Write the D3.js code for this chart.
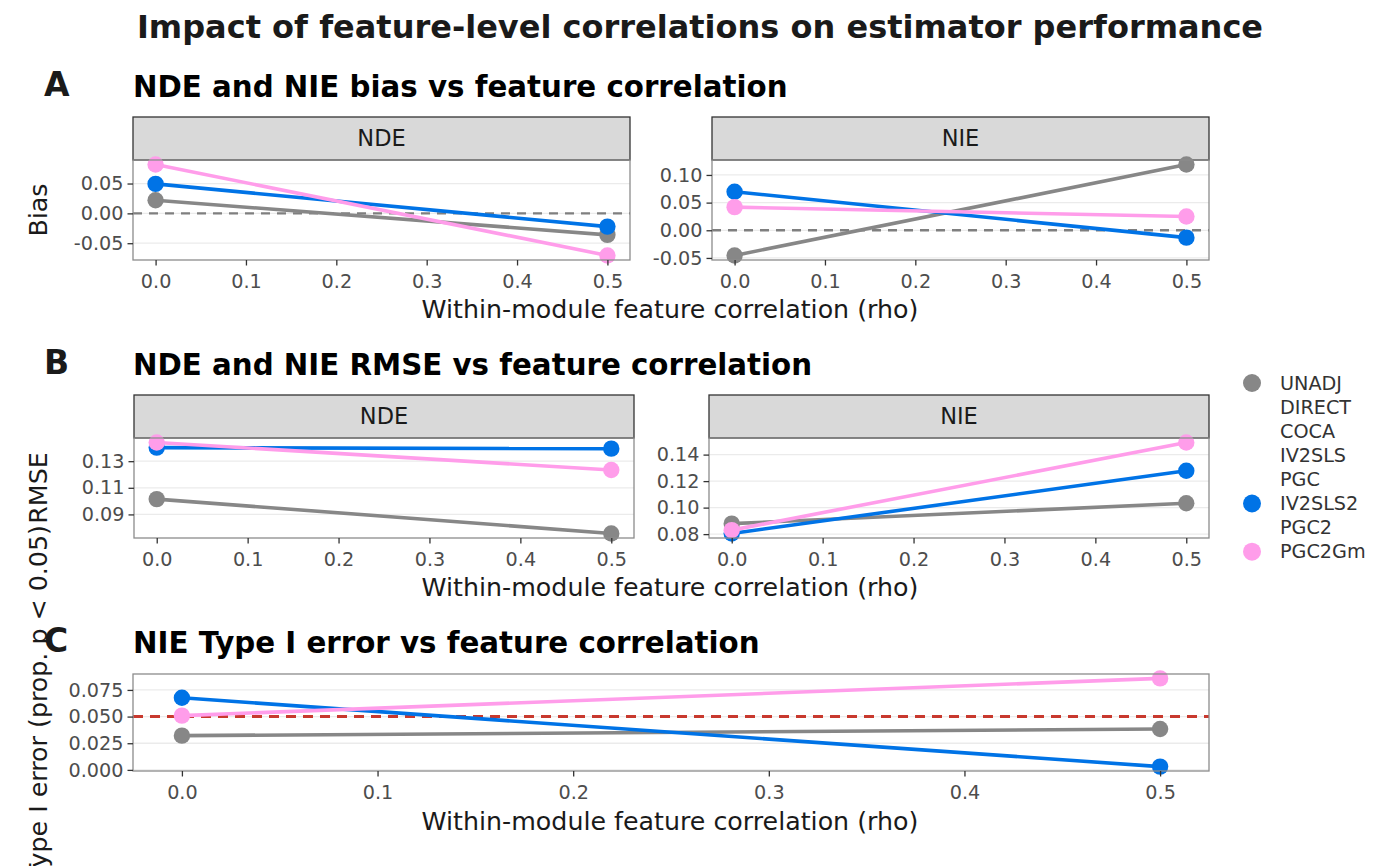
<!DOCTYPE html>
<html>
<head>
<meta charset="utf-8">
<script src="https://cdn.jsdelivr.net/npm/d3@7"></script>
<style>
  body { margin: 0; background: #fff; }
  svg { font-family: "DejaVu Sans", sans-serif; display: block; }
</style>
</head>
<body>
<svg id="chart"></svg>
<script>
// x values (within-module feature correlation)
const rho = [0, 0.5];
const xTicks = [0, 0.1, 0.2, 0.3, 0.4, 0.5];

// legend entries, only three of them have a visible colour
const methods = ["UNADJ", "DIRECT", "COCA", "IV2SLS", "PGC", "IV2SLS2", "PGC2", "PGC2Gm"];
const shownMethods = ["UNADJ", "IV2SLS2", "PGC2Gm"];

// A: bias
const biasNdeUnadj = [0.022, -0.036];
const biasNdeIv2sls2 = [0.0494, -0.0222];
const biasNdePgc2gm = [0.0818, -0.0705];
const biasNieUnadj = [-0.0455, 0.1188];
const biasNieIv2sls2 = [0.0697, -0.0133];
const biasNiePgc2gm = [0.0418, 0.0248];
const biasNdeTicks = [-0.05, 0, 0.05];
const biasNieTicks = [-0.05, 0, 0.05, 0.10];

// B: RMSE
const rmseNdeUnadj = [0.1015, 0.0757];
const rmseNdeIv2sls2 = [0.1402, 0.1394];
const rmseNdePgc2gm = [0.1440, 0.1234];
const rmseNieUnadj = [0.0879, 0.1033];
const rmseNieIv2sls2 = [0.0805, 0.1278];
const rmseNiePgc2gm = [0.0830, 0.1491];
const rmseNdeTicks = [0.09, 0.11, 0.13];
const rmseNieTicks = [0.08, 0.10, 0.12, 0.14];

// C: NIE type I error
const typeINieUnadj = [0.0321, 0.0383];
const typeINieIv2sls2 = [0.0676, 0.0031];
const typeINiePgc2gm = [0.0509, 0.0858];
const typeITicks = [0, 0.025, 0.05, 0.075];
const alphaLevel = 0.05;

(function () {
    const W = 1400, H = 866;
    const svg = d3.select("#chart").attr("width", W).attr("height", H);

    const color = d3.scaleOrdinal()
        .domain(shownMethods)
        .range(["#878787", "#0073E6", "#FF9DEA"]);

    // ggplot style 5% expansion
    function expanded(vals) {
        const [lo, hi] = d3.extent(vals);
        const pad = (hi - lo) * 0.05;
        return [lo - pad, hi + pad];
    }

    function drawPanel(opt) {
        const g = svg.append("g");
        const x = d3.scaleLinear().domain(expanded(rho)).range([opt.left, opt.right]);
        const allVals = opt.series.flat();
        const y = d3.scaleLinear().domain(expanded(allVals)).range([opt.bottom, opt.top]);

        // strip
        if (opt.strip) {
            g.append("rect")
                .attr("x", opt.left).attr("y", opt.top - 43)
                .attr("width", opt.right - opt.left).attr("height", 43)
                .attr("fill", "#d9d9d9").attr("stroke", "#333").attr("stroke-width", 1.3);
            g.append("text")
                .attr("x", (opt.left + opt.right) / 2).attr("y", opt.top - 21.5)
                .attr("dy", "0.35em").attr("text-anchor", "middle")
                .attr("font-size", 22.5).attr("fill", "#1a1a1a")
                .text(opt.strip);
        }

        // grid
        g.append("g").selectAll("line")
            .data(opt.ticks).enter().append("line")
            .attr("x1", opt.left).attr("x2", opt.right)
            .attr("y1", d => y(d)).attr("y2", d => y(d))
            .attr("stroke", "#ebebeb").attr("stroke-width", 1.3);

        // reference line
        if (opt.ref != null) {
            g.append("line")
                .attr("x1", opt.left).attr("x2", opt.right)
                .attr("y1", y(opt.ref)).attr("y2", y(opt.ref))
                .attr("stroke", opt.refColor).attr("stroke-width", opt.refWidth)
                .attr("stroke-dasharray", opt.refDash);
        }

        // lines, then points
        const line = d3.line().x((d, i) => x(rho[i])).y(d => y(d));
        g.append("g").selectAll("path")
            .data(opt.series).enter().append("path")
            .attr("d", line)
            .attr("fill", "none")
            .attr("stroke", (d, i) => color(shownMethods[i]))
            .attr("stroke-width", 3.6);

        opt.series.forEach((s, i) => {
            g.append("g").selectAll("circle")
                .data(s).enter().append("circle")
                .attr("cx", (d, j) => x(rho[j]))
                .attr("cy", d => y(d))
                .attr("r", 8.2)
                .attr("fill", color(shownMethods[i]));
        });

        // panel border
        g.append("rect")
            .attr("x", opt.left).attr("y", opt.top)
            .attr("width", opt.right - opt.left).attr("height", opt.bottom - opt.top)
            .attr("fill", "none").attr("stroke", "#8c8c8c").attr("stroke-width", 1.3);

        // axes
        const xAxis = g.append("g")
            .attr("transform", `translate(0,${opt.bottom})`)
            .call(d3.axisBottom(x).tickValues(xTicks).tickFormat(d3.format(".1f")).tickSize(5.5).tickPadding(4));
        const yAxis = g.append("g")
            .attr("transform", `translate(${opt.left},0)`)
            .call(d3.axisLeft(y).tickValues(opt.ticks).tickFormat(d3.format(opt.fmt)).tickSize(5.5).tickPadding(4));
        [xAxis, yAxis].forEach(a => {
            a.select(".domain").remove();
            a.selectAll(".tick line").attr("stroke", "#333").attr("stroke-width", 1.3);
            a.selectAll(".tick text")
                .attr("font-size", 19.2).attr("fill", "#4d4d4d")
                .attr("font-family", "DejaVu Sans, sans-serif");
        });
        xAxis.selectAll(".tick text").attr("dy", "0.95em");
        // minus sign as plain hyphen like ggplot
        yAxis.selectAll(".tick text").text(d => d3.format(opt.fmt)(d).replace("\u2212", "-"));
    }

    function tagAndTitle(tag, title, baseline) {
        svg.append("text")
            .attr("x", 44).attr("y", baseline - 1)
            .attr("font-size", 33).attr("font-weight", "bold").attr("fill", "#1a1a1a")
            .text(tag);
        svg.append("text")
            .attr("x", 133).attr("y", baseline)
            .attr("font-size", 29.3).attr("font-weight", "bold").attr("fill", "#000")
            .text(title);
    }

    function xTitle(y) {
        svg.append("text")
            .attr("x", 670).attr("y", y)
            .attr("text-anchor", "middle")
            .attr("font-size", 25.3).attr("fill", "#1a1a1a")
            .text("Within-module feature correlation (rho)");
    }

    function yTitle(label, cy) {
        svg.append("text")
            .attr("transform", `translate(38,${cy}) rotate(-90)`)
            .attr("text-anchor", "middle").attr("dy", "0.35em")
            .attr("font-size", 25.3).attr("fill", "#1a1a1a")
            .text(label);
    }

    // main title
    svg.append("text")
        .attr("x", 700).attr("y", 38)
        .attr("text-anchor", "middle")
        .attr("font-size", 32).attr("font-weight", "bold").attr("fill", "#1a1a1a")
        .text("Impact of feature-level correlations on estimator performance");

    // A
    tagAndTitle("A", "NDE and NIE bias vs feature correlation", 97);
    drawPanel({ left: 133, right: 630, top: 160, bottom: 260, strip: "NDE",
        series: [biasNdeUnadj, biasNdeIv2sls2, biasNdePgc2gm], ticks: biasNdeTicks, fmt: ".2f",
        ref: 0, refColor: "#7f7f7f", refWidth: 2.4, refDash: "9,7" });
    drawPanel({ left: 712, right: 1209, top: 160, bottom: 260, strip: "NIE",
        series: [biasNieUnadj, biasNieIv2sls2, biasNiePgc2gm], ticks: biasNieTicks, fmt: ".2f",
        ref: 0, refColor: "#7f7f7f", refWidth: 2.4, refDash: "9,7" });
    xTitle(318);
    yTitle("Bias", 210);

    // B
    tagAndTitle("B", "NDE and NIE RMSE vs feature correlation", 375);
    drawPanel({ left: 134, right: 634, top: 438, bottom: 538, strip: "NDE",
        series: [rmseNdeUnadj, rmseNdeIv2sls2, rmseNdePgc2gm], ticks: rmseNdeTicks, fmt: ".2f" });
    drawPanel({ left: 709, right: 1209, top: 438, bottom: 538, strip: "NIE",
        series: [rmseNieUnadj, rmseNieIv2sls2, rmseNiePgc2gm], ticks: rmseNieTicks, fmt: ".2f" });
    xTitle(596);
    yTitle("RMSE", 488);

    // C
    tagAndTitle("C", "NIE Type I error vs feature correlation", 653);
    drawPanel({ left: 133, right: 1209, top: 674, bottom: 771, strip: null,
        series: [typeINieUnadj, typeINieIv2sls2, typeINiePgc2gm], ticks: typeITicks, fmt: ".3f",
        ref: alphaLevel, refColor: "#C8392E", refWidth: 3, refDash: "10,7" });
    xTitle(830);
    yTitle("Type I error (prop. p < 0.05)", 702);

    // legend
    const legend = svg.append("g").attr("transform", "translate(1252,383)");
    const rows = legend.selectAll("g")
        .data(methods).enter().append("g")
        .attr("transform", (d, i) => `translate(0,${i * 24.1})`);
    rows.filter(d => shownMethods.includes(d))
        .append("circle").attr("r", 9).attr("fill", d => color(d));
    rows.append("text")
        .attr("x", 28).attr("dy", "0.35em")
        .attr("font-size", 19.2).attr("fill", "#333")
        .text(d => d);
})();
</script>
</body>
</html>
